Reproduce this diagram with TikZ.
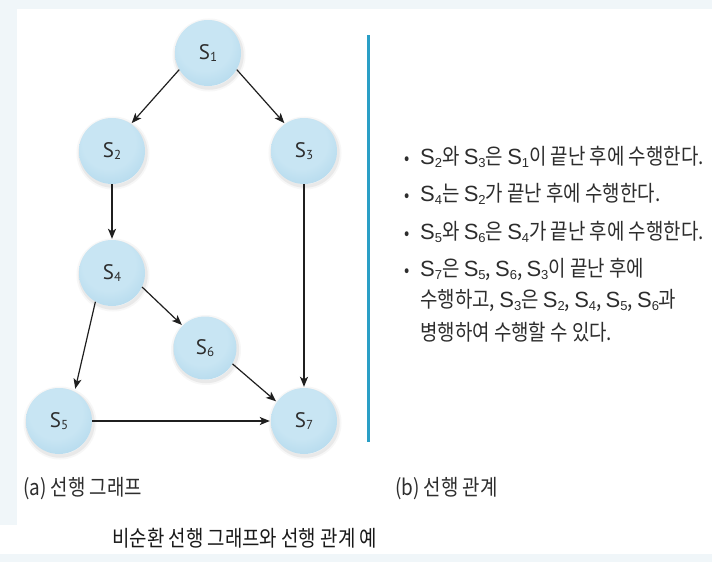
\documentclass[tikz,border=0pt]{standalone}
\usepackage{fontspec}
\setmainfont{Noto Sans CJK KR}[FakeStretch=0.86]
\newfontfamily\latf{Liberation Sans}
\newfontfamily\nodef{PT Sans}
\usetikzlibrary{arrows.meta}
\definecolor{bin}{RGB}{200,229,243}
\definecolor{bmid}{RGB}{163,208,232}
\definecolor{bout}{RGB}{120,182,216}
\definecolor{lineblue}{RGB}{42,159,198}
\definecolor{bgtint}{RGB}{240,246,249}
\definecolor{txtgray}{RGB}{45,45,45}
\pgfdeclareradialshading{myball}{\pgfpoint{-3bp}{8bp}}{color(0bp)=(bin); color(20bp)=(bin); color(46bp)=(bmid); color(58bp)=(bout); color(100bp)=(bout)}
\newcommand\Sn[1]{{\latf S\raisebox{-3pt}{\fontsize{13}{13}\selectfont #1}}}
\newcommand\Nn[1]{{\nodef\fontsize{21}{21}\selectfont S\raisebox{-2pt}{\fontsize{13}{13}\selectfont #1}}}
\tikzset{
  ball/.style={circle, minimum size=66pt, inner sep=0pt, shading=myball, text=txtgray,
    preaction={draw=black!60, line width=7pt, draw opacity=0.05, transform canvas={shift={(1pt,-2pt)}}},
    preaction={draw=black!60, line width=3.5pt, draw opacity=0.09, transform canvas={shift={(1pt,-2pt)}}}},
  conn/.style={-{Stealth[length=10pt,width=8pt,inset=2.5pt]}, line width=1.2pt, draw=black!88, shorten >=1pt},
  txt/.style={font=\fontsize{22}{26}\selectfont, text=txtgray, anchor=base west, inner sep=0pt},
  bul/.style={font=\fontsize{18}{22}\selectfont, text=txtgray, anchor=base, inner sep=0pt}
}
\begin{document}
\begin{tikzpicture}[x=1pt,y=-1pt]
\useasboundingbox (0,0) rectangle (712,562);
\fill[bgtint] (0,0) rectangle (712,562);
\fill[white] (17,9) rectangle (712,525);
\fill[white] (0,525) rectangle (712,554);
\draw[lineblue, line width=3pt] (368,35) -- (368,442);
% nodes
\node[ball] (s1) at (208,53) {\Nn{1}};
\node[ball] (s2) at (112,151) {\Nn{2}};
\node[ball] (s3) at (304,151) {\Nn{3}};
\node[ball] (s4) at (112,273) {\Nn{4}};
\node[ball, minimum size=63pt] (s6) at (205,348) {\Nn{6}};
\node[ball] (s5) at (59,421) {\Nn{5}};
\node[ball] (s7) at (304,421) {\Nn{7}};
% connectors
\draw[conn] (s1.210) -- (s2.55);
\draw[conn] (s1.-30) -- (s3.125);
\draw[conn] (s2) -- (s4);
\draw[conn] (s3) -- (s7);
\draw[conn] (s4.-25) -- (s6.135);
\draw[conn, shorten >=3pt] (s4.240) -- (s5.62);
\draw[conn] (s6.-30) -- (s7.145);
\draw[conn] (s5) -- (s7);
% right text
\node[bul] (d1) at (407,164) {•};
\node[bul] (d2) at (407,201) {•};
\node[bul] (d3) at (407,239) {•};
\node[bul] (d4) at (407,276) {•};
\node[txt] (t1) at (420,164) {\Sn{2}와 \Sn{3}은 \Sn{1}이 끝난 후에 수행한다.};
\node[txt] (t2) at (420,201) {\Sn{4}는 \Sn{2}가 끝난 후에 수행한다.};
\node[txt] (t3) at (420,239) {\Sn{5}와 \Sn{6}은 \Sn{4}가 끝난 후에 수행한다.};
\node[txt] (t4) at (420,276) {\Sn{7}은 \Sn{5}, \Sn{6}, \Sn{3}이 끝난 후에};
\node[txt] (t5) at (420,307) {수행하고, \Sn{3}은 \Sn{2}, \Sn{4}, \Sn{5}, \Sn{6}과};
\node[txt] (t6) at (420,340) {병행하여 수행할 수 있다.};
% captions
\node[txt] (ca) at (23,495) {(a) 선행 그래프};
\node[txt] (cb) at (395,495) {(b) 선행 관계};
\node[txt, text=black!90] (cap) at (112,546) {비순환 선행 그래프와 선행 관계 예};
\end{tikzpicture}
\end{document}
